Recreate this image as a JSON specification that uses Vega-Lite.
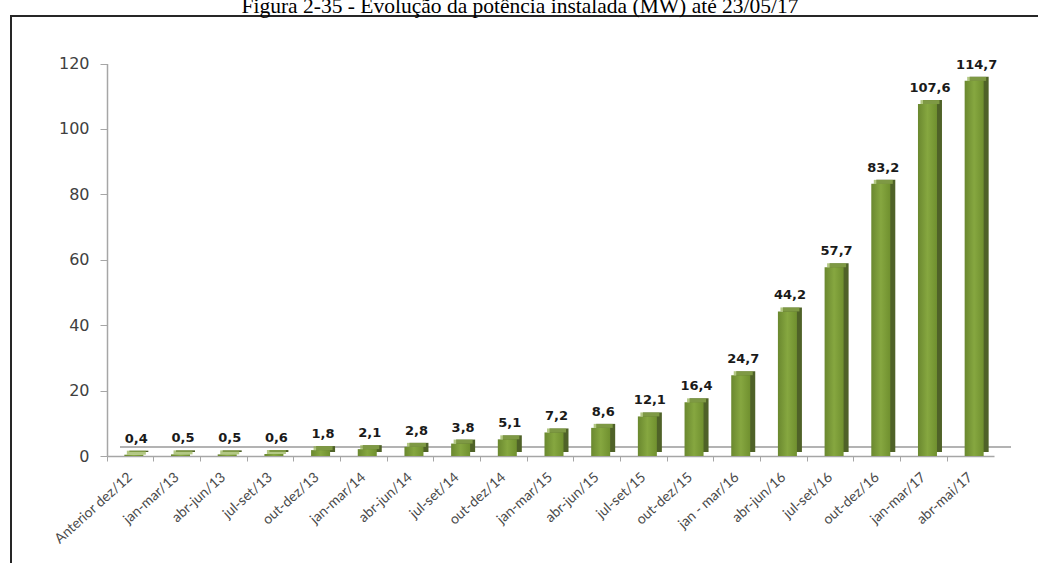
{
  "$schema": "https://vega.github.io/schema/vega-lite/v6.json",
  "autosize": {"type": "none"},
  "padding": {"left": 11, "top": 16, "right": 0, "bottom": 0},
  "width": 1040,
  "height": 560,
  "background": "white",
  "title": {
    "text": "Figura 2-35 - Evolução da potência instalada (MW) até 23/05/17",
    "font": "Liberation Serif",
    "fontSize": 21.5,
    "fontWeight": "normal",
    "color": "#000000",
    "anchor": "middle",
    "frame": "group",
    "dx": -11,
    "baseline": "alphabetic",
    "offset": -18
  },
  "config": {
    "view": {"stroke": "#262626", "strokeWidth": 2},
    "locale": {"number": {"decimal": ",", "thousands": ".", "grouping": [3], "currency": ["R$", ""]}}
  },
  "data": {
    "values": [
      {"periodo": "Anterior dez/12", "mw": 0.4},
      {"periodo": "jan-mar/13", "mw": 0.5},
      {"periodo": "abr-jun/13", "mw": 0.5},
      {"periodo": "jul-set/13", "mw": 0.6},
      {"periodo": "out-dez/13", "mw": 1.8},
      {"periodo": "jan-mar/14", "mw": 2.1},
      {"periodo": "abr-jun/14", "mw": 2.8},
      {"periodo": "jul-set/14", "mw": 3.8},
      {"periodo": "out-dez/14", "mw": 5.1},
      {"periodo": "jan-mar/15", "mw": 7.2},
      {"periodo": "abr-jun/15", "mw": 8.6},
      {"periodo": "jul-set/15", "mw": 12.1},
      {"periodo": "out-dez/15", "mw": 16.4},
      {"periodo": "jan - mar/16", "mw": 24.7},
      {"periodo": "abr-jun/16", "mw": 44.2},
      {"periodo": "jul-set/16", "mw": 57.7},
      {"periodo": "out-dez/16", "mw": 83.2},
      {"periodo": "jan-mar/17", "mw": 107.6},
      {"periodo": "abr-mai/17", "mw": 114.7}
    ]
  },
  "encoding": {
    "x": {
      "field": "periodo",
      "type": "nominal",
      "sort": null,
      "scale": {
        "domain": ["Anterior dez/12", "jan-mar/13", "abr-jun/13", "jul-set/13", "out-dez/13", "jan-mar/14", "abr-jun/14", "jul-set/14", "out-dez/14", "jan-mar/15", "abr-jun/15", "jul-set/15", "out-dez/15", "jan - mar/16", "abr-jun/16", "jul-set/16", "out-dez/16", "jan-mar/17", "abr-mai/17"],
        "range": [96, 983],
        "paddingInner": 0,
        "paddingOuter": 0
      },
      "axis": {
        "orient": "bottom",
        "offset": -120,
        "title": null,
        "domainColor": "#a6a6a6",
        "domainWidth": 1.5,
        "tickColor": "#a6a6a6",
        "tickSize": 5,
        "bandPosition": 0,
        "labelAngle": -42,
        "labelAlign": "right",
        "labelBaseline": "middle",
        "labelPadding": 14,
        "labelFont": "Lato",
        "labelFontSize": 14,
        "labelColor": "#4a4a4a"
      }
    }
  },
  "layer": [
    {
      "mark": {"type": "rule", "color": "#b3b3b3", "strokeWidth": 1.5, "xOffset": -10, "x2Offset": 40, "yOffset": -9},
      "encoding": {
        "x": {"datum": "Anterior dez/12"},
        "x2": {"datum": "abr-mai/17"},
        "y": {"datum": 0, "type": "quantitative"}
      }
    },
    {
      "mark": {"type": "bar", "width": 19, "xOffset": 8.5, "yOffset": -4, "y2Offset": -4, "color": "#4f6228"},
      "encoding": {
        "y": {
          "field": "mw",
          "type": "quantitative",
          "scale": {"domain": [0, 120], "range": [440, 47.5], "nice": false},
          "axis": {
            "orient": "left",
            "offset": -96,
            "title": null,
            "values": [0, 20, 40, 60, 80, 100, 120],
            "grid": false,
            "domainColor": "#a6a6a6",
            "domainWidth": 1.5,
            "tickColor": "#a6a6a6",
            "tickSize": 7,
            "labelPadding": 11,
            "labelFont": "DejaVu Sans",
            "labelFontSize": 16,
            "labelColor": "#404040"
          }
        }
      }
    },
    {
      "mark": {
        "type": "bar",
        "width": 19,
        "xOffset": 3.5,
        "color": {
          "gradient": "linear",
          "x1": 0, "x2": 1, "y1": 0, "y2": 0,
          "stops": [
            {"offset": 0, "color": "#6a882f"},
            {"offset": 0.5, "color": "#86a740"},
            {"offset": 1, "color": "#70902f"}
          ]
        }
      },
      "encoding": {"y": {"field": "mw", "type": "quantitative"}}
    },
    {
      "mark": {"type": "tick", "orient": "horizontal", "size": 19, "thickness": 4, "xOffset": 6, "yOffset": -2, "color": "#93b150"},
      "encoding": {"y": {"field": "mw", "type": "quantitative"}}
    },
    {
      "mark": {"type": "text", "font": "DejaVu Sans", "fontSize": 13, "fontWeight": "bold", "color": "#1a1a1a", "baseline": "alphabetic", "xOffset": 6, "yOffset": -12},
      "encoding": {
        "y": {"field": "mw", "type": "quantitative"},
        "text": {"field": "mw", "type": "quantitative", "format": ".1f"}
      }
    }
  ]
}
